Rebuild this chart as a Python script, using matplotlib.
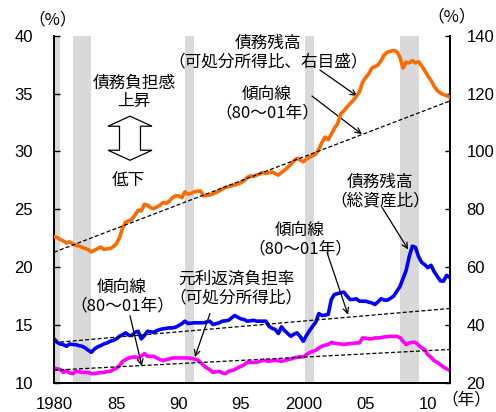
import numpy as np
import matplotlib
matplotlib.use("Agg")
import matplotlib.pyplot as plt
from matplotlib.patches import Polygon

plt.rcParams['font.family'] = ['Noto Sans CJK JP', 'DejaVu Sans']

# Quarterly observations, 1980Q1 - 2011Q4
start_year = 1980
debt_income = [  # household debt / disposable income (%, right axis)
    70.5, 70.2, 69.5, 69.0,
    68.3, 68.7, 68.0, 67.5,
    67.3, 66.8, 66.4, 66.0,
    65.2, 65.8, 66.4, 66.9,
    66.1, 66.3, 66.4, 67.0,
    68.1, 70.0, 73.5, 75.5,
    76.0, 76.5, 78.0, 79.6,
    79.4, 81.7, 81.4, 80.5,
    80.2, 80.8, 81.4, 82.3,
    82.0, 82.8, 84.0, 84.6,
    84.6, 84.0, 86.0, 85.2,
    85.5, 86.0, 86.2, 86.3,
    84.6, 84.8, 84.9, 85.3,
    85.8, 86.3, 87.0, 87.5,
    87.8, 88.1, 88.4, 88.7,
    89.2, 89.8, 91.0, 91.5,
    91.3, 91.8, 92.2, 92.7,
    92.4, 92.6, 92.9, 92.3,
    91.8, 92.7, 93.5, 94.5,
    95.5, 96.7, 97.6, 97.0,
    96.4, 97.3, 98.0, 98.5,
    99.1, 100.8, 103.1, 104.9,
    104.0, 106.0, 108.0, 109.5,
    112.9, 114.0, 115.3, 116.5,
    117.6, 119.0, 120.5, 123.9,
    125.5, 126.8, 128.8, 129.3,
    129.9, 131.4, 133.4, 134.3,
    134.6, 134.9, 134.5, 132.6,
    128.8, 130.8, 130.6, 131.4,
    130.6, 131.0, 129.5, 127.9,
    126.0, 124.5, 122.5, 121.0,
    120.2, 119.6, 119.3, 118.7,
]
debt_assets = [  # household debt / total assets (%, left axis)
    13.79, 13.49, 13.35, 13.29,
    13.15, 13.35, 13.30, 13.29,
    13.20, 13.15, 13.01, 12.80,
    12.63, 12.92, 13.10, 13.21,
    13.35, 13.44, 13.58, 13.65,
    13.79, 14.01, 14.15, 14.31,
    14.10, 14.08, 14.36, 14.45,
    13.79, 14.08, 14.45, 14.40,
    14.36, 14.50, 14.60, 14.66,
    14.70, 14.74, 14.74, 14.80,
    14.94, 15.10, 15.32, 15.12,
    15.15, 15.18, 15.18, 15.18,
    15.18, 15.25, 15.32, 15.03,
    15.10, 15.18, 15.32, 15.35,
    15.40, 15.61, 15.81, 15.65,
    15.52, 15.46, 15.32, 15.35,
    15.40, 15.32, 15.32, 15.32,
    15.32, 14.88, 14.70, 14.60,
    14.25, 14.83, 14.50, 14.25,
    14.01, 14.20, 14.31, 14.00,
    13.58, 14.08, 14.50, 14.88,
    15.23, 15.98, 15.81, 15.85,
    15.90, 17.20, 17.63, 17.70,
    17.78, 17.83, 17.50, 17.20,
    17.20, 17.26, 17.05, 17.05,
    17.05, 16.96, 16.90, 16.76,
    17.00, 17.26, 17.14, 17.14,
    17.30, 17.48, 17.90, 18.30,
    19.00, 19.70, 20.90, 21.80,
    21.70, 20.90, 20.40, 20.20,
    19.94, 20.15, 19.60, 19.20,
    18.80, 18.78, 19.28, 19.08,
]
debt_service = [  # debt service ratio, % of disposable income (left axis)
    11.27, 11.20, 11.13, 10.89,
    11.04, 10.85, 10.78, 10.98,
    10.95, 10.89, 10.89, 10.89,
    10.78, 10.80, 10.84, 10.87,
    10.89, 10.95, 10.98, 11.13,
    11.25, 11.47, 11.85, 12.00,
    12.14, 12.20, 12.23, 12.14,
    12.30, 12.51, 12.28, 12.28,
    12.28, 12.14, 12.00, 11.91,
    12.00, 12.05, 12.14, 12.14,
    12.14, 12.14, 12.14, 12.14,
    12.10, 12.05, 12.00, 11.75,
    11.50, 11.27, 11.13, 10.89,
    10.95, 10.98, 10.85, 10.78,
    10.98, 11.05, 11.13, 11.30,
    11.41, 11.55, 11.76, 11.76,
    11.76, 11.76, 11.85, 11.93,
    11.90, 11.85, 11.90, 11.93,
    11.90, 11.85, 11.93, 12.00,
    12.05, 12.14, 12.20, 12.23,
    12.23, 12.43, 12.60, 12.71,
    12.80, 13.00, 13.15, 13.25,
    13.29, 13.49, 13.40, 13.38,
    13.35, 13.29, 13.35, 13.38,
    13.40, 13.44, 13.44, 13.87,
    13.85, 13.79, 13.80, 13.87,
    13.87, 13.90, 13.96, 13.98,
    14.00, 14.01, 14.01, 13.90,
    13.60, 13.29, 13.44, 13.49,
    13.49, 13.25, 13.00, 12.86,
    12.40, 12.20, 11.90, 11.75,
    11.56, 11.35, 11.20, 11.07,
]
# Recession periods (start, end) shaded in gray
recessions = [(1980.0, 1980.5), (1981.5, 1983.0), (1990.5, 1991.25),
              (2000.15, 2000.9), (2007.75, 2009.3)]
x_ticks = [1980, 1985, 1990, 1995, 2000, 2005, 2010]
x_tick_labels = ['1980', '85', '90', '95', '2000', '05', '10']
left_ticks = [10, 15, 20, 25, 30, 35, 40]
right_ticks = [20, 40, 60, 80, 100, 120, 140]
trend_span = (1980, 2001)

t = start_year + np.arange(len(debt_income)) * 0.25

def trend(values):
    v = np.asarray(values)
    m = (t >= trend_span[0]) & (t < trend_span[1] + 1)
    coef = np.polyfit(t[m], v[m], 1)
    return np.polyval(coef, t)

orange = '#FF6A00'
blue = '#0000FF'
magenta = '#FF00FF'
num_font = 'Liberation Sans'

fig = plt.figure(figsize=(4.96, 4.12), dpi=100)
ax = fig.add_axes([0.1089, 0.0711, 0.7978, 0.8423])
ax2 = ax.twinx()

for a, b in recessions:
    ax.axvspan(a, b, color='#D9D9D9', lw=0, zorder=0)

dash = (0, (3.2, 1.8))
ax.plot(t, debt_assets, color=blue, lw=2.6, zorder=3, solid_joinstyle='round')
ax.plot(t, debt_service, color=magenta, lw=2.6, zorder=3, solid_joinstyle='round')
ax.plot(t, trend(debt_assets), color='black', lw=0.9, ls=dash, zorder=4)
ax.plot(t, trend(debt_service), color='black', lw=0.9, ls=dash, zorder=4)
ax2.plot(t, debt_income, color=orange, lw=2.6, zorder=3, solid_joinstyle='round')
ax2.plot(t, trend(debt_income), color='black', lw=0.9, ls=dash, zorder=4)

ax.set_xlim(1980, 2011.75)
ax.set_ylim(10, 40)
ax2.set_ylim(20, 140)
ax.set_xticks(x_ticks)
ax.set_xticklabels(x_tick_labels, fontfamily=num_font, fontsize=12)
ax.set_yticks(left_ticks)
ax.set_yticklabels([str(v) for v in left_ticks], fontfamily=num_font, fontsize=12)
ax2.set_yticks(right_ticks)
ax2.set_yticklabels([str(v) for v in right_ticks], fontfamily=num_font, fontsize=12)

ax.tick_params(axis='x', length=0, pad=10)
ax.tick_params(axis='y', direction='in', length=4, width=1, pad=15)
ax2.tick_params(axis='y', direction='in', length=3.5, width=1, pad=12)

for a in (ax, ax2):
    a.spines['top'].set_visible(False)
    for s in ('left', 'right', 'bottom'):
        a.spines[s].set_linewidth(1.4)

# Hollow double arrow: 上昇 / 低下
cx, top, bot = 0.192, 0.768, 0.641
hw, sw, hh = 0.0556, 0.0265, 0.0289
arrow = Polygon([(cx, top), (cx + hw, top - hh), (cx + sw, top - hh),
                 (cx + sw, bot + hh), (cx + hw, bot + hh), (cx, bot),
                 (cx - hw, bot + hh), (cx - sw, bot + hh), (cx - sw, top - hh),
                 (cx - hw, top - hh)], closed=True, transform=ax.transAxes,
                facecolor='white', edgecolor='black', lw=0.9, zorder=5)
ax.add_patch(arrow)

txt = dict(transform=ax.transAxes, ha='center', va='center', fontsize=12,
           linespacing=1.12, zorder=6)
ax.text(0.202, 0.836, '債務負担感\n上昇', **txt)
ax.text(0.187, 0.584, '低下', **txt)

arrowprops = dict(arrowstyle='->', color='black', lw=0.9,
                  shrinkA=0, shrinkB=0, mutation_scale=10)

def note(label, xy_text, xy_head=None, text_pos=None):
    if text_pos is not None:
        ax.text(text_pos[0], text_pos[1], label, **txt)
    if xy_head is not None:
        ax.annotate('', xy=xy_head, xycoords='axes fraction',
                    xytext=xy_text, textcoords='axes fraction',
                    arrowprops=arrowprops, zorder=6)

note('債務残高\n（可処分所得比、右目盛）', (0.672, 0.901), (0.766, 0.826), (0.541, 0.951))
note('傾向線\n（80～01年）', (0.652, 0.826), (0.778, 0.716), (0.538, 0.803))
note('債務残高\n（総資産比）', (0.829, 0.505), (0.895, 0.384), (0.824, 0.551))
note('傾向線\n（80～01年）', (0.690, 0.375), (0.743, 0.196), (0.622, 0.411))
note('元利返済負担率\n（可処分所得比）', (0.394, 0.199), (0.356, 0.074), (0.460, 0.272))
note('傾向線\n（80～01年）', (0.192, 0.193), (0.222, 0.048), (0.172, 0.249))

fig.text(0.107, 0.951, '（%）', ha='center', va='center', fontsize=12)
fig.text(0.911, 0.959, '（%）', ha='center', va='center', fontsize=12)
fig.text(0.940, 0.029, '（年）', ha='center', va='center', fontsize=12)

fig.savefig('out.png', dpi=100)
